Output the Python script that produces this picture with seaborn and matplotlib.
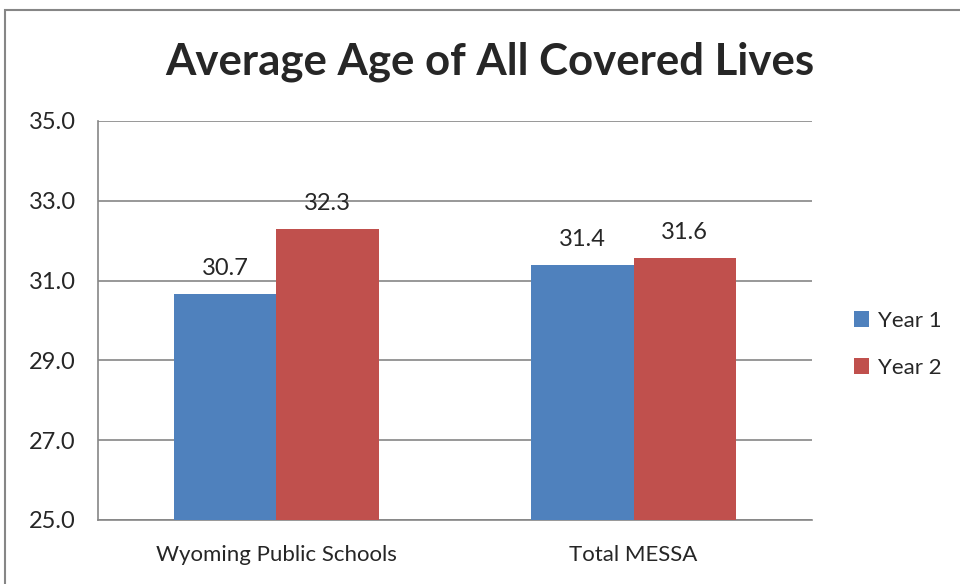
import matplotlib
matplotlib.use("Agg")
import matplotlib.pyplot as plt
import pandas as pd
import seaborn as sns
from matplotlib.patches import Rectangle

# Chart data
CATEGORIES = ['Wyoming Public Schools', 'Total MESSA']
SERIES = ['Year 1', 'Year 2']
YEAR1 = [30.66, 31.39]
YEAR2 = [32.29, 31.56]
Y_TICKS = [25.0, 27.0, 29.0, 31.0, 33.0, 35.0]
COLORS = ['#4F81BD', '#C0504D']

df = pd.DataFrame({
    'category': CATEGORIES * 2,
    'series': [SERIES[0]] * len(CATEGORIES) + [SERIES[1]] * len(CATEGORIES),
    'value': YEAR1 + YEAR2,
})

sns.set_style("white")
plt.rcParams['font.family'] = ['Lato', 'DejaVu Sans']

fig = plt.figure(figsize=(9.6, 5.84), dpi=100)
ax = fig.add_axes([0.102, 0.1096, 0.744, 0.6834])

sns.barplot(data=df, x='category', y='value', hue='series', order=CATEGORIES,
            hue_order=SERIES, palette=COLORS, width=0.572, saturation=1,
            errorbar=None, ax=ax, zorder=3, linewidth=0)

ax.set_ylim(25, 35)
ax.set_yticks(Y_TICKS)
ax.set_yticklabels([f"{t:.1f}" for t in Y_TICKS], fontsize=17)
ax.tick_params(axis='x', labelsize=16, length=0, pad=18)
ax.tick_params(axis='y', length=0, pad=16)
ax.set_xlabel('')
ax.set_ylabel('')
ax.grid(axis='y', color='#868686', linewidth=1.2, zorder=0)
ax.set_axisbelow(True)

for side in ['top', 'right']:
    ax.spines[side].set_visible(False)
ax.spines['left'].set_color('#868686')
ax.spines['bottom'].set_color('#868686')
ax.spines['left'].set_linewidth(1.2)
ax.spines['bottom'].set_linewidth(1.2)

for container in ax.containers:
    ax.bar_label(container, fmt='%.1f', fontsize=17, padding=11)

leg = ax.legend(loc='center left', bbox_to_anchor=(1.03, 0.44), frameon=False,
                fontsize=16, handlelength=0.7, handleheight=0.7,
                handletextpad=0.4, labelspacing=1.2)

fig.text(0.51, 0.894, 'Average Age of All Covered Lives', fontsize=31.5,
         fontweight='bold', ha='center', va='center')

# outer chart frame (right and bottom edges fall outside the image)
fig.patches.append(Rectangle((0.005, -0.01), 1.0, 0.993, transform=fig.transFigure,
                             fill=False, edgecolor='#868686', linewidth=1.5))

fig.savefig('out.png', dpi=100)
plt.close(fig)
